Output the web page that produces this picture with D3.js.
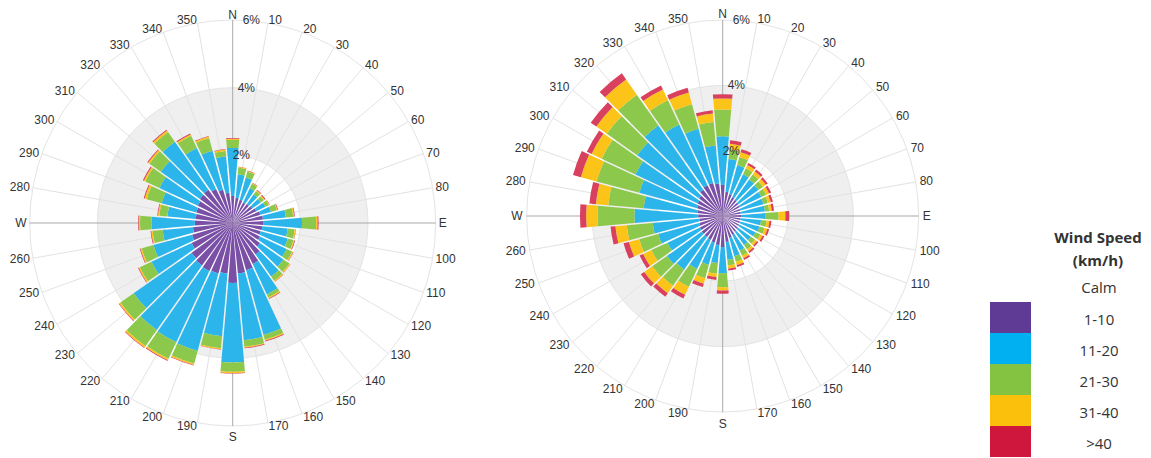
<!DOCTYPE html>
<html>
<head>
<meta charset="utf-8">
<script src="https://cdn.jsdelivr.net/npm/d3@7"></script>
<style>
  html, body { margin: 0; padding: 0; background: #fff; }
  svg { display: block; }
  .axis-text { font-family: "Liberation Sans", Arial, sans-serif; font-size: 12px; fill: #333; }
  .legend-text { font-family: "Open Sans", "Noto Sans", sans-serif; font-size: 15px; fill: #333; }
</style>
</head>
<body>
<svg id="chart" width="1151" height="458"></svg>
<script>
// Wind directions (degrees) and speed classes
const directions = d3.range(0, 360, 10);
const speedBins = ["1-10", "11-20", "21-30", "31-40", ">40"];
const radialTicks = [2, 4, 6];

// Left rose: frequency (%) per direction, one array per speed class
const leftSpeed1to10 = [0.80,0.75,0.72,0.68,0.70,0.72,0.78,0.85,0.90,0.90,0.88,0.86,0.90,1.00,1.15,1.35,1.45,1.50,
                        1.77,1.50,1.55,1.58,1.55,1.50,1.35,1.25,1.18,1.12,1.10,1.12,1.15,1.20,1.22,1.12,1.02,0.90];
const leftSpeed11to20 = [1.42,0.70,0.68,0.47,0.35,0.31,0.30,0.33,0.68,1.15,0.75,0.83,0.87,0.85,0.80,0.99,1.98,1.98,
                         2.35,1.86,2.37,2.32,2.33,2.09,1.31,1.18,0.90,1.28,0.84,1.06,1.25,1.41,1.73,1.34,1.20,1.08];
const leftSpeed21to30 = [0.24,0.19,0.18,0.14,0.12,0.11,0.11,0.18,0.22,0.42,0.21,0.18,0.18,0.21,0.15,0.10,0.15,0.19,
                         0.28,0.36,0.39,0.54,0.58,0.48,0.38,0.36,0.30,0.34,0.24,0.46,0.46,0.41,0.35,0.40,0.39,0.16];
const leftSpeed31to40 = [0.03,0.02,0.02,0.02,0.03,0.03,0.02,0.02,0.03,0.04,0.03,0.03,0.03,0.03,0.03,0.03,0.03,0.03,
                         0.03,0.03,0.04,0.05,0.05,0.04,0.04,0.04,0.04,0.04,0.04,0.06,0.05,0.05,0.05,0.04,0.04,0.04];
const leftSpeedOver40 = [0.02,0.01,0.01,0.01,0.02,0.03,0.01,0.02,0.02,0.03,0.01,0.02,0.01,0.01,0.01,0.02,0.02,0.02,
                         0.02,0.01,0.02,0.02,0.02,0.02,0.02,0.02,0.02,0.02,0.02,0.03,0.03,0.03,0.03,0.03,0.02,0.02];

// Right rose
const rightSpeed1to10 = [0.95,0.75,0.70,0.65,0.62,0.60,0.58,0.56,0.55,0.58,0.55,0.55,0.56,0.58,0.60,0.65,0.70,0.80,
                         0.95,0.90,0.85,0.82,0.80,0.80,0.78,0.75,0.72,0.75,0.78,0.82,0.86,0.90,1.00,1.05,1.05,1.00];
const rightSpeed11to20 = [1.49,1.00,0.92,0.77,0.76,0.75,0.74,0.74,0.75,0.72,0.63,0.62,0.56,0.49,0.50,0.53,0.58,0.55,
                          0.80,0.55,0.70,0.98,1.22,1.30,1.10,1.30,1.43,1.95,1.65,1.83,2.10,2.31,2.40,2.05,1.72,1.17];
const rightSpeed21to30 = [0.82,0.30,0.26,0.20,0.19,0.17,0.16,0.14,0.13,0.41,0.17,0.16,0.16,0.15,0.16,0.17,0.18,0.17,
                          0.43,0.33,0.43,0.60,0.60,0.55,0.54,0.60,0.80,1.13,1.09,1.35,1.14,1.14,1.15,0.82,0.78,0.72];
const rightSpeed31to40 = [0.34,0.17,0.15,0.11,0.11,0.11,0.10,0.09,0.08,0.21,0.09,0.09,0.08,0.08,0.08,0.09,0.10,0.10,
                          0.10,0.10,0.17,0.27,0.28,0.30,0.28,0.33,0.35,0.35,0.38,0.50,0.34,0.39,0.57,0.36,0.37,0.26];
const rightSpeedOver40 = [0.13,0.11,0.09,0.07,0.07,0.07,0.07,0.07,0.07,0.12,0.06,0.06,0.06,0.05,0.06,0.06,0.06,0.06,
                          0.10,0.09,0.11,0.13,0.13,0.13,0.12,0.17,0.15,0.19,0.20,0.25,0.16,0.21,0.23,0.14,0.15,0.10];

const roseColors = ["#7a4fa6", "#2cb5ea", "#8cc84b", "#fcc419", "#d8405e"];
const legendColors = ["#5f3b96", "#00b0f0", "#84c341", "#fbc00c", "#cf163c"];

const svg = d3.select("#chart");

function buildRows(series) {
  return directions.map((d, i) => {
    const row = { dir: d };
    speedBins.forEach((k, j) => { row[k] = series[j][i]; });
    return row;
  });
}

function drawRose(cfg) {
  const g = svg.append("g").attr("transform", `translate(${cfg.cx},${cfg.cy})`);
  const r = d3.scaleLinear().domain([0, 6]).range([0, cfg.radius]);
  const half = Math.PI / 36;
  const angle = d3.scaleBand().domain(directions).range([-half, 2 * Math.PI - half]).padding(0);
  const mid = d => angle(d) + angle.bandwidth() / 2;

  // band between 2% and 4%
  g.append("path")
    .attr("d", d3.arc()({ innerRadius: r(2), outerRadius: r(4), startAngle: 0, endAngle: 2 * Math.PI }))
    .attr("fill", "#efefef");

  // circular grid
  g.selectAll("circle.grid").data(radialTicks).join("circle")
    .attr("class", "grid").attr("r", d => r(d))
    .attr("fill", "none").attr("stroke", "#e4e4e4").attr("stroke-width", 1);

  // radial grid lines
  g.selectAll("line.spoke").data(directions.filter(d => d % 90 !== 0)).join("line")
    .attr("class", "spoke")
    .attr("x1", 0).attr("y1", 0)
    .attr("x2", d => r(6) * Math.sin(mid(d)))
    .attr("y2", d => -r(6) * Math.cos(mid(d)))
    .attr("stroke", "#e2e2e2").attr("stroke-width", 1);

  // compass cross
  g.selectAll("line.cross").data([0, 90]).join("line")
    .attr("class", "cross")
    .attr("x1", d => -r(6) * Math.sin(mid(d))).attr("y1", d => r(6) * Math.cos(mid(d)))
    .attr("x2", d => r(6) * Math.sin(mid(d))).attr("y2", d => -r(6) * Math.cos(mid(d)))
    .attr("stroke", "#a9a9a9").attr("stroke-width", 1);

  // stacked bars
  const stacked = d3.stack().keys(speedBins)(buildRows(cfg.series));
  const arc = d3.arc().padAngle(0.016).padRadius(95);
  g.selectAll("g.layer").data(stacked).join("g")
    .attr("class", "layer")
    .attr("fill", (d, i) => roseColors[i])
    .selectAll("path").data(d => d).join("path")
    .attr("d", d => arc({
      innerRadius: r(d[0]), outerRadius: r(d[1]),
      startAngle: angle(d.data.dir), endAngle: angle(d.data.dir) + angle.bandwidth()
    }));

  // direction labels: side labels hang off the ring, N and S sit above/below it
  const names = { 0: "N", 90: "E", 180: "S", 270: "W" };
  const lr = r(6) + cfg.labelGap;
  g.selectAll("text.dir").data(directions).join("text")
    .attr("class", "axis-text dir")
    .attr("x", d => lr * Math.sin(mid(d)))
    .attr("y", d => {
      const y = -lr * Math.cos(mid(d));
      if (d === 0) return y + 1.5;
      if (d === 180) return y + 11.5;
      return y;
    })
    .attr("text-anchor", d => (d === 0 || d === 180) ? "middle" : (d < 180 ? "start" : "end"))
    .attr("dominant-baseline", d => (d === 0 || d === 180) ? "auto" : "central")
    .text(d => names[d] || d);

  // radial value labels
  g.selectAll("text.val").data(radialTicks).join("text")
    .attr("class", "axis-text val")
    .attr("x", d => (d / 2 - 1) * 5)
    .attr("y", d => -r(d))
    .attr("dominant-baseline", "central")
    .text(d => d + "%");
}

drawRose({ cx: 232.7, cy: 223, radius: 203, labelGap: 3,
  series: [leftSpeed1to10, leftSpeed11to20, leftSpeed21to30, leftSpeed31to40, leftSpeedOver40] });
drawRose({ cx: 722.7, cy: 216, radius: 196, labelGap: 4,
  series: [rightSpeed1to10, rightSpeed11to20, rightSpeed21to30, rightSpeed31to40, rightSpeedOver40] });

// Legend
const legend = svg.append("g");
legend.selectAll("text.title").data(["Wind Speed", "(km/h)"]).join("text")
  .attr("class", "legend-text title")
  .attr("x", 1098).attr("y", (d, i) => 237 + i * 22.5)
  .attr("text-anchor", "middle").attr("dominant-baseline", "central")
  .attr("font-weight", "bold")
  .text(d => d);
legend.append("text")
  .attr("class", "legend-text")
  .attr("x", 1099).attr("y", 287)
  .attr("text-anchor", "middle").attr("dominant-baseline", "central")
  .text("Calm");
const swatchY = d3.scaleBand().domain(speedBins).range([302, 457]);
legend.selectAll("rect.sw").data(speedBins).join("rect")
  .attr("class", "sw")
  .attr("x", 990).attr("y", d => swatchY(d))
  .attr("width", 41).attr("height", swatchY.bandwidth())
  .attr("fill", (d, i) => legendColors[i]);
legend.selectAll("text.lab").data(speedBins).join("text")
  .attr("class", "legend-text lab")
  .attr("x", 1099).attr("y", d => swatchY(d) + swatchY.bandwidth() / 2 + 1)
  .attr("text-anchor", "middle").attr("dominant-baseline", "central")
  .text(d => d);
</script>
</body>
</html>
